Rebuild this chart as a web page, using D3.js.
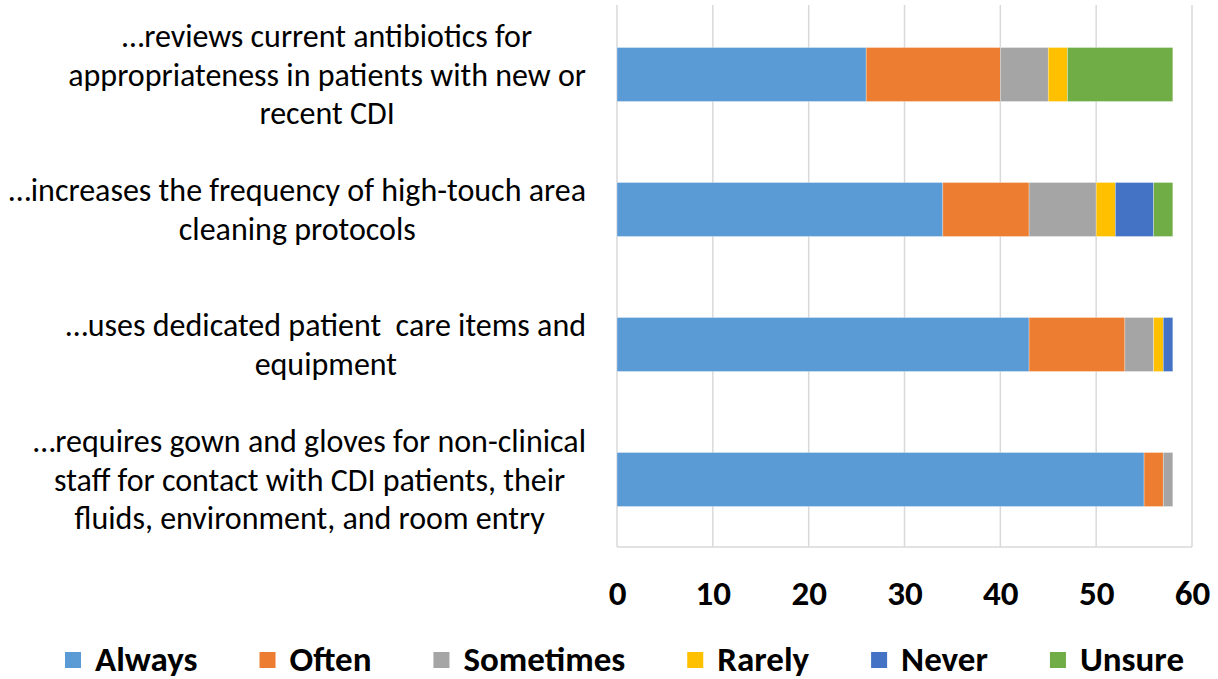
<!DOCTYPE html>
<html><head><meta charset="utf-8">
<script src="https://cdn.jsdelivr.net/npm/d3@7"></script>
<style>body{margin:0;background:#fff}svg{display:block}</style>
</head><body>
<svg id="c" width="1218" height="679"></svg>
<script>
const categories = [
  ["…reviews current antibiotics for","appropriateness in patients with new or","recent CDI"],
  ["…increases the frequency of high-touch area","cleaning protocols"],
  ["…uses dedicated patient  care items and","equipment"],
  ["…requires gown and gloves for non-clinical","staff for contact with CDI patients, their","fluids, environment, and room entry"]
];
const seriesNames = ["Always","Often","Sometimes","Rarely","Never","Unsure"];
const colors = ["#5b9bd5","#ed7d31","#a5a5a5","#ffc000","#4472c4","#70ad47"];
const always    = [26,34,43,55];
const often     = [14, 9,10, 2];
const sometimes = [ 5, 7, 3, 1];
const rarely    = [ 2, 2, 1, 0];
const never     = [ 0, 4, 1, 0];
const unsure    = [11, 2, 0, 0];
const xTicks = [0,10,20,30,40,50,60];

const values = [always,often,sometimes,rarely,never,unsure];
const rows = categories.map((c,i)=>{const r={idx:i}; seriesNames.forEach((s,j)=>r[s]=values[j][i]); return r;});
const stack = d3.stack().keys(seriesNames)(rows);

const svg = d3.select("#c");
const font = "Calibri, Carlito, 'Open Sans', sans-serif";
const x = d3.scaleLinear().domain([0,60]).range([617,1192]);
const y = d3.scaleBand().domain(d3.range(categories.length)).range([7,547]).paddingInner(0.6).paddingOuter(0.3);

// gridlines
svg.append("g").selectAll("line").data(xTicks).join("line")
  .attr("x1",d=>x(d)).attr("x2",d=>x(d)).attr("y1",5).attr("y2",547)
  .attr("stroke","#d9d9d9").attr("stroke-width",1.5);
svg.append("line").attr("x1",x(0)).attr("x2",x(60)).attr("y1",547).attr("y2",547)
  .attr("stroke","#d9d9d9").attr("stroke-width",1.5);

// bars
svg.append("g").selectAll("g").data(stack).join("g")
  .attr("fill",(d,i)=>colors[i])
  .selectAll("rect").data(d=>d).join("rect")
  .attr("x",d=>x(d[0])).attr("width",d=>Math.max(0,x(d[1])-x(d[0])))
  .attr("y",(d,i)=>y(i)).attr("height",y.bandwidth())
  .attr("stroke","#fff").attr("stroke-width",0.6).attr("stroke-opacity",0.5);

// x tick labels
const xAxis = d3.axisBottom(x).tickValues(xTicks).tickSize(0).tickPadding(0);
const ga = svg.append("g").attr("transform","translate(0,580)").call(xAxis);
ga.select(".domain").remove();
ga.selectAll("text").attr("font-family",font).attr("font-weight","bold").attr("font-size",35).attr("fill","#000");

// category labels (centred block, widest line ending at right edge)
const lab = svg.append("g").attr("font-family",font).attr("font-size",32).attr("fill","#000").attr("text-anchor","middle");
categories.forEach((lines,i)=>{
  const cy = y(i)+y.bandwidth()/2;
  const lh = 38.5;
  const t = lab.append("text").attr("xml:space","preserve").style("white-space","pre");
  const spans = lines.map((l,k)=>t.append("tspan").attr("y",cy+(k-(lines.length-1)/2)*lh+11).text(l));
  const maxW = d3.max(spans,s=>s.node().getComputedTextLength());
  spans.forEach(s=>s.attr("x",586-maxW/2));
});

// legend
const lg = svg.append("g").attr("font-family",font).attr("font-weight","bold").attr("font-size",35).attr("fill","#000");
const items = [];
seriesNames.forEach((s,i)=>{
  const g = lg.append("g");
  g.append("rect").attr("x",0).attr("y",-8).attr("width",16).attr("height",16).attr("fill",colors[i]);
  const t = g.append("text").attr("x",30).attr("y",11).text(s);
  items.push({g,w:30+t.node().getComputedTextLength()});
});
const total = d3.sum(items,d=>d.w);
let cx = 65;
const g2 = (1184-65-total)/(items.length-1);
items.forEach(it=>{it.g.attr("transform",`translate(${cx},660)`); cx += it.w+g2;});
</script>
</body></html>
